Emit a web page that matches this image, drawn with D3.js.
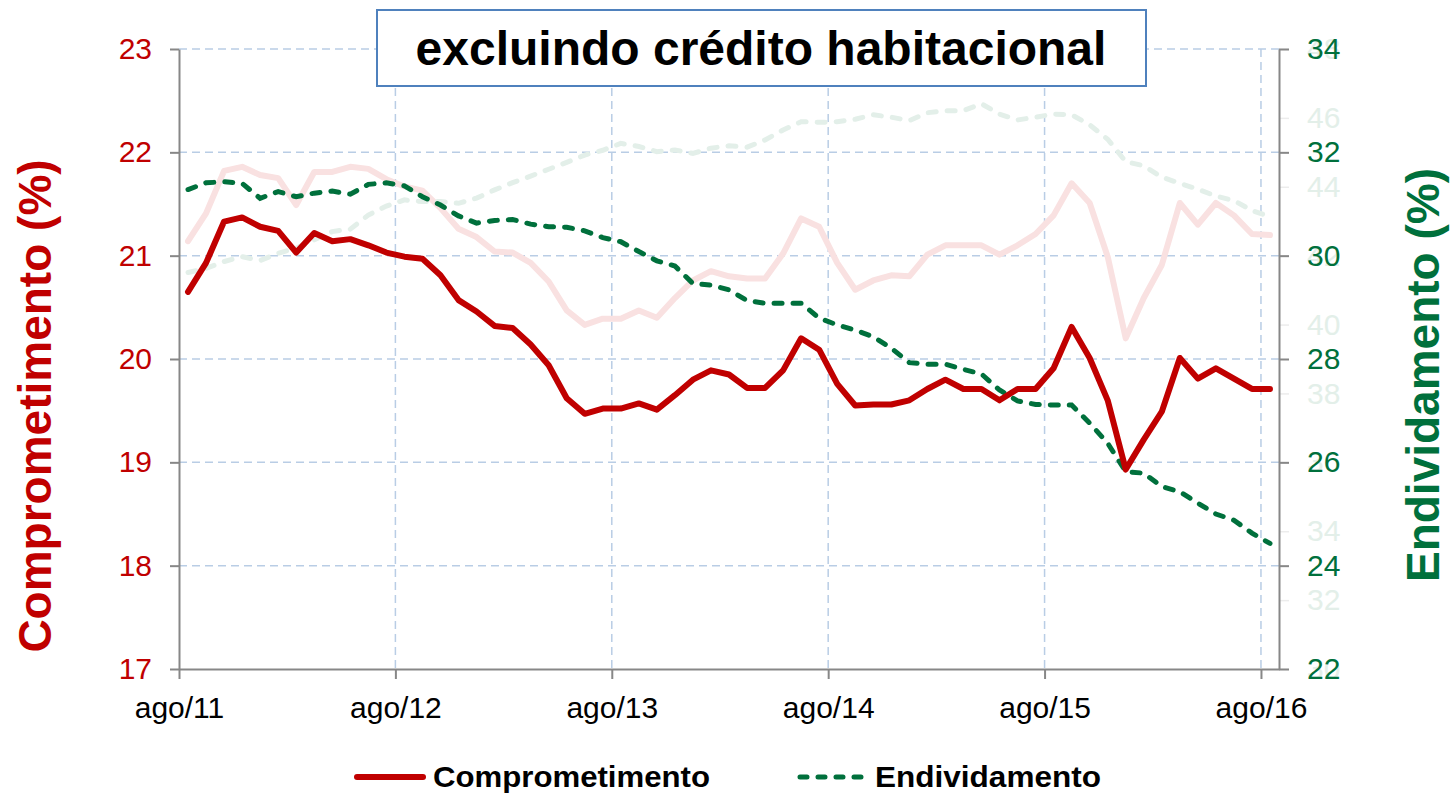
<!DOCTYPE html>
<html>
<head>
<meta charset="utf-8">
<script src="https://cdn.jsdelivr.net/npm/d3@7"></script>
<style>
	body { margin: 0; background: #fff; }
	#chart { width: 1450px; height: 793px; }
	text { font-family: Arial, "Liberation Sans", sans-serif; }
</style>
</head>
<body>
<div id="chart"></div>
<script>
	// months from ago/11 to ago/16
	var tickLabels = ["ago/11", "ago/12", "ago/13", "ago/14", "ago/15", "ago/16"];

	// comprometimento (%), left axis
	var comprometimento = [
		20.65, 20.93, 21.33, 21.37, 21.28, 21.24, 21.03, 21.22, 21.14, 21.16, 21.10, 21.03,
		20.99, 20.97, 20.81, 20.57, 20.46, 20.32, 20.30, 20.14, 19.94, 19.62, 19.47, 19.52,
		19.52, 19.57, 19.51, 19.65, 19.80, 19.89, 19.85, 19.72, 19.72, 19.89, 20.20, 20.09,
		19.76, 19.55, 19.56, 19.56, 19.60, 19.71, 19.80, 19.71, 19.71, 19.60, 19.71, 19.71,
		19.91, 20.31, 20.01, 19.60, 18.93, 19.22, 19.49, 20.01, 19.81, 19.91, 19.81, 19.71,
		19.71
	];

	// endividamento (%), right axis
	var endividamento = [
		31.28, 31.41, 31.43, 31.40, 31.11, 31.24, 31.14, 31.21, 31.25, 31.19, 31.38, 31.41,
		31.35, 31.14, 30.98, 30.77, 30.63, 30.68, 30.70, 30.61, 30.56, 30.55, 30.48, 30.35,
		30.27, 30.08, 29.90, 29.80, 29.46, 29.43, 29.34, 29.13, 29.08, 29.08, 29.08, 28.79,
		28.66, 28.56, 28.43, 28.21, 27.93, 27.90, 27.90, 27.80, 27.71, 27.40, 27.19, 27.12,
		27.11, 27.11, 26.76, 26.37, 25.82, 25.79, 25.53, 25.43, 25.21, 25.00, 24.88, 24.63,
		24.43
	];

	// faded series of the chart underneath (total, with housing credit)
	var ghostComprometimento = [
		21.14, 21.41, 21.82, 21.86, 21.78, 21.75, 21.49, 21.81, 21.81, 21.86, 21.84, 21.74,
		21.67, 21.63, 21.46, 21.26, 21.18, 21.04, 21.03, 20.93, 20.75, 20.47, 20.33, 20.39,
		20.39, 20.47, 20.40, 20.59, 20.76, 20.85, 20.80, 20.78, 20.78, 21.02, 21.36, 21.28,
		20.93, 20.67, 20.76, 20.81, 20.80, 21.01, 21.10, 21.10, 21.10, 21.01, 21.10, 21.21,
		21.39, 21.70, 21.51, 20.99, 20.20, 20.59, 20.91, 21.51, 21.30, 21.51, 21.39, 21.21,
		21.20
	];
	var ghostEndividamento = [
		41.51, 41.63, 41.83, 41.97, 41.86, 42.07, 42.22, 42.46, 42.70, 42.77, 43.18, 43.44,
		43.62, 43.57, 43.57, 43.52, 43.67, 43.91, 44.12, 44.31, 44.51, 44.71, 44.92, 45.06,
		45.26, 45.17, 45.02, 45.07, 44.97, 45.12, 45.19, 45.15, 45.36, 45.65, 45.89, 45.87,
		45.89, 45.96, 46.09, 46.02, 45.92, 46.15, 46.21, 46.21, 46.41, 46.11, 45.94, 46.02,
		46.11, 46.09, 45.80, 45.38, 44.73, 44.61, 44.28, 44.10, 43.93, 43.73, 43.60, 43.31,
		43.13
	];

	var leftTicks = [17, 18, 19, 20, 21, 22, 23];
	var rightTicks = [22, 24, 26, 28, 30, 32, 34];
	var ghostRightTicks = [30, 32, 34, 36, 38, 40, 42, 44, 46, 48];

	var titleText = "excluindo crédito habitacional";
	var seriesNames = ["Comprometimento", "Endividamento"];

	var RED = "#c00000";
	var GREEN = "#00703c";
	var GRID = "#b9cde5";
	var AXIS = "#878787";

	var margin = {left: 179, right: 171, top: 49, bottom: 124};
	var width = 1450, height = 793;
	var graphwidth = width - margin.left - margin.right;
	var graphheight = height - margin.top - margin.bottom;

	var svg = d3.select("#chart").append("svg")
		.attr("width", width)
		.attr("height", height);

	// x in months; ticks every 12 months, points at middle of month
	let xScale = d3.scaleLinear().domain([0, 61]).range([margin.left, margin.left + graphwidth]);
	let yLeft = d3.scaleLinear().domain([17, 23]).range([margin.top + graphheight, margin.top]);
	let yRight = d3.scaleLinear().domain([22, 34]).range([margin.top + graphheight, margin.top]);
	let yGhost = d3.scaleLinear().domain([30, 48]).range([margin.top + graphheight, margin.top]);

	let xTickVals = tickLabels.map((d, k) => k * 12);

	// grid
	let grid = svg.append("g");
	grid.selectAll("line.h")
		.data(leftTicks.slice(1))
		.join("line")
		.attr("x1", xScale(0)).attr("x2", xScale(61))
		.attr("y1", d => yLeft(d)).attr("y2", d => yLeft(d))
		.attr("stroke", GRID).attr("stroke-width", 1.5)
		.attr("stroke-dasharray", "8,5");
	grid.selectAll("line.v")
		.data(xTickVals.slice(1))
		.join("line")
		.attr("x1", d => xScale(d)).attr("x2", d => xScale(d))
		.attr("y1", yLeft(23)).attr("y2", yLeft(17))
		.attr("stroke", GRID).attr("stroke-width", 1.5)
		.attr("stroke-dasharray", "8,5");

	// faded right axis labels
	let ghostAxis = svg.append("g")
		.attr("transform", `translate(${margin.left + graphwidth},0)`)
		.call(d3.axisRight(yGhost).tickValues(ghostRightTicks).tickSize(10).tickPadding(18));
	ghostAxis.select(".domain").remove();
	ghostAxis.selectAll("line").attr("stroke", "#ececec").attr("stroke-width", 1.5);
	ghostAxis.selectAll("text").attr("fill", "#e3efe9").style("font-size", "30px");

	let line = (scale) => d3.line()
		.x((d, k) => xScale(k + 0.5))
		.y(d => scale(d));

	// faded lines
	svg.append("path")
		.attr("d", line(yLeft)(ghostComprometimento))
		.attr("fill", "none").attr("stroke", "#f9e1e1")
		.attr("stroke-width", 6).attr("stroke-linejoin", "round").attr("stroke-linecap", "round");
	svg.append("path")
		.attr("d", line(yGhost)(ghostEndividamento))
		.attr("fill", "none").attr("stroke", "#e3efe9")
		.attr("stroke-width", 5).attr("stroke-dasharray", "8,11").attr("stroke-linecap", "round");

	// main lines
	svg.append("path")
		.attr("d", line(yRight)(endividamento))
		.attr("fill", "none").attr("stroke", GREEN)
		.attr("stroke-width", 5).attr("stroke-dasharray", "8,11").attr("stroke-linecap", "round");
	svg.append("path")
		.attr("d", line(yLeft)(comprometimento))
		.attr("fill", "none").attr("stroke", RED)
		.attr("stroke-width", 6).attr("stroke-linejoin", "round").attr("stroke-linecap", "round");

	// axes
	let xAxis = svg.append("g")
		.attr("transform", `translate(0,${margin.top + graphheight})`)
		.call(d3.axisBottom(xScale).tickValues(xTickVals)
			.tickFormat((d, k) => tickLabels[k]).tickSize(10).tickPadding(18).tickSizeOuter(0));
	xAxis.select(".domain").attr("stroke", AXIS).attr("stroke-width", 2);
	xAxis.selectAll("line").attr("stroke", AXIS).attr("stroke-width", 2);
	xAxis.selectAll("text").attr("fill", "#000").style("font-size", "30px");

	let leftAxis = svg.append("g")
		.attr("transform", `translate(${margin.left},0)`)
		.call(d3.axisLeft(yLeft).tickValues(leftTicks).tickFormat(d3.format("d"))
			.tickSize(9).tickPadding(18).tickSizeOuter(0));
	leftAxis.select(".domain").attr("stroke", AXIS).attr("stroke-width", 2);
	leftAxis.selectAll("line").attr("stroke", AXIS).attr("stroke-width", 2);
	leftAxis.selectAll("text").attr("fill", RED).style("font-size", "30px");

	let rightAxis = svg.append("g")
		.attr("transform", `translate(${margin.left + graphwidth},0)`)
		.call(d3.axisRight(yRight).tickValues(rightTicks).tickFormat(d3.format("d"))
			.tickSize(10).tickPadding(18).tickSizeOuter(0));
	rightAxis.select(".domain").attr("stroke", AXIS).attr("stroke-width", 2);
	rightAxis.selectAll("line").attr("stroke", AXIS).attr("stroke-width", 2);
	rightAxis.selectAll("text").attr("fill", GREEN).style("font-size", "30px");

	// axis titles
	svg.append("text")
		.attr("transform", "rotate(-90)")
		.attr("x", -406).attr("y", 51)
		.attr("text-anchor", "middle")
		.attr("fill", RED)
		.style("font-size", "46px").style("font-weight", "bold")
		.text("Comprometimento (%)");
	svg.append("text")
		.attr("transform", "rotate(-90)")
		.attr("x", -375).attr("y", 1439)
		.attr("text-anchor", "middle")
		.attr("fill", GREEN)
		.style("font-size", "46px").style("font-weight", "bold")
		.text("Endividamento (%)");

	// title box
	let titlebox = svg.append("g");
	titlebox.append("rect")
		.attr("x", 377).attr("y", 10)
		.attr("width", 769).attr("height", 76)
		.attr("fill", "#fff").attr("stroke", "#4f81bd").attr("stroke-width", 2);
	titlebox.append("text")
		.attr("x", 761).attr("y", 65)
		.attr("text-anchor", "middle")
		.style("font-size", "48px").style("font-weight", "bold")
		.text(titleText);

	// legend
	let legend = svg.append("g");
	legend.append("line")
		.attr("x1", 357).attr("x2", 423).attr("y1", 777).attr("y2", 777)
		.attr("stroke", RED).attr("stroke-width", 6).attr("stroke-linecap", "round");
	legend.append("text")
		.attr("x", 433).attr("y", 787)
		.attr("textLength", 277).attr("lengthAdjust", "spacingAndGlyphs")
		.style("font-size", "30px").style("font-weight", "bold")
		.text(seriesNames[0]);
	legend.append("line")
		.attr("x1", 800).attr("x2", 867).attr("y1", 777).attr("y2", 777)
		.attr("stroke", GREEN).attr("stroke-width", 5)
		.attr("stroke-dasharray", "7,11").attr("stroke-linecap", "round");
	legend.append("text")
		.attr("x", 875).attr("y", 787)
		.attr("textLength", 226).attr("lengthAdjust", "spacingAndGlyphs")
		.style("font-size", "30px").style("font-weight", "bold")
		.text(seriesNames[1]);
</script>
</body>
</html>
